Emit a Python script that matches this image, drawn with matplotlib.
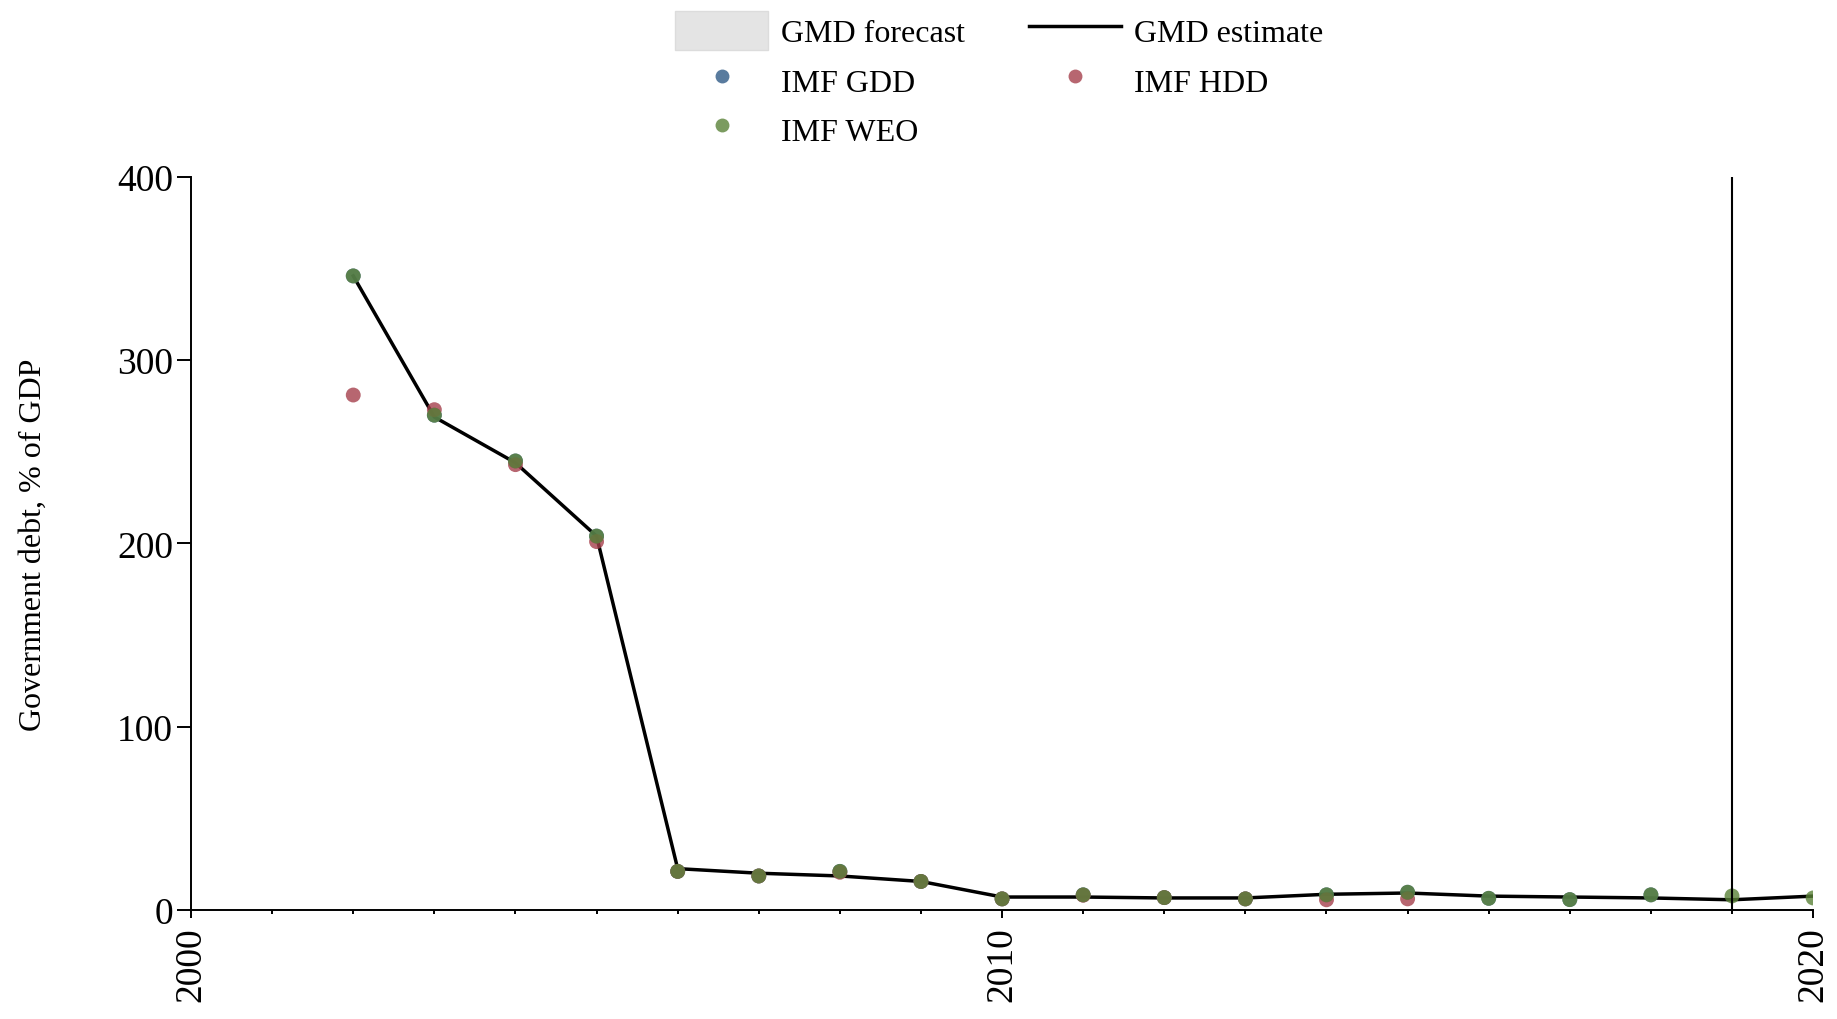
import matplotlib
matplotlib.use("Agg")
import matplotlib.pyplot as plt
from matplotlib.patches import Patch
from matplotlib.lines import Line2D
from matplotlib.ticker import MultipleLocator

plt.rcParams["font.family"] = ["Liberation Serif", "DejaVu Serif"]

# GMD estimate (line)
gmd_years = [2002, 2003, 2004, 2005, 2006, 2007, 2008, 2009, 2010, 2011,
             2012, 2013, 2014, 2015, 2016, 2017, 2018, 2019, 2020]
gmd_values = [346, 269, 244, 204, 22.5, 20, 18.5, 15.5, 7, 7,
              6.5, 6.5, 8.5, 9.2, 7.5, 7, 6.5, 5.5, 7.5]

# IMF GDD
gdd_years = [2002, 2003, 2004, 2005, 2006, 2007, 2008, 2009, 2010, 2011,
             2012, 2013, 2014, 2015, 2016, 2017, 2018]
gdd_values = [346, 270, 245, 204, 21, 18.5, 21, 15.5, 6, 8.2,
              6.7, 6, 8.2, 9.6, 6.3, 5.6, 8.2]

# IMF HDD
hdd_years = [2002, 2003, 2004, 2005, 2006, 2007, 2008, 2009, 2010, 2011,
             2012, 2013, 2014, 2015]
hdd_values = [281, 273, 243, 201, 21, 18.5, 20.5, 15.5, 6, 8,
              6.7, 6, 5.5, 6.0]

# IMF WEO
weo_years = [2002, 2003, 2004, 2005, 2006, 2007, 2008, 2009, 2010, 2011,
             2012, 2013, 2014, 2015, 2016, 2017, 2018, 2019, 2020]
weo_values = [346, 270, 245, 204, 21, 18.5, 21, 15.5, 6, 8.2,
              6.7, 6, 8.2, 9.6, 6.3, 5.6, 8.2, 7.6, 6.5]

forecast_start = 2019

c_gdd = "#2f5a86"
c_hdd = "#a5404c"
c_weo = "#5a8238"
alpha = 0.8
size = 115

fig = plt.figure(figsize=(18.37, 10.20), dpi=100)
ax = fig.add_axes([0.104, 0.107, 0.883, 0.7185])

ax.plot(gmd_years, gmd_values, color="black", lw=2.5, zorder=2)
ax.scatter(gdd_years, gdd_values, s=size, color=c_gdd, alpha=alpha,
           edgecolors="none", zorder=3)
ax.scatter(hdd_years, hdd_values, s=size, color=c_hdd, alpha=alpha,
           edgecolors="none", zorder=3)
ax.scatter(weo_years, weo_values, s=size, color=c_weo, alpha=alpha,
           edgecolors="none", zorder=3)
ax.axvline(forecast_start, color="black", lw=1.5, zorder=4)

ax.set_xlim(2000, 2020)
ax.set_ylim(0, 400)
ax.set_xticks([2000, 2010, 2020])
ax.set_xticklabels(["2000", "2010", "2020"], rotation=90)
ax.xaxis.set_minor_locator(MultipleLocator(1))
ax.set_yticks([0, 100, 200, 300, 400])
ax.tick_params(axis="both", labelsize=27, width=1.4)
ax.tick_params(axis="x", which="major", length=6, pad=6)
ax.tick_params(axis="x", which="minor", length=3, width=1.4)
ax.tick_params(axis="y", length=10, pad=3)
for s in ["top", "right"]:
    ax.spines[s].set_visible(False)
for s in ["left", "bottom"]:
    ax.spines[s].set_linewidth(1.4)

ax.set_ylabel("Government debt, % of GDP", fontsize=23, labelpad=50)

ms = 10
handles = [
    Patch(facecolor="#e4e4e4", edgecolor="#dcdcdc", label="GMD forecast"),
    Line2D([], [], marker="o", ls="none", color=c_gdd, alpha=alpha,
           markeredgecolor="none", markersize=ms, label="IMF GDD"),
    Line2D([], [], marker="o", ls="none", color=c_weo, alpha=alpha,
           markeredgecolor="none", markersize=ms, label="IMF WEO"),
    Line2D([], [], color="black", lw=2.5, label="GMD estimate"),
    Line2D([], [], marker="o", ls="none", color=c_hdd, alpha=alpha,
           markeredgecolor="none", markersize=ms, label="IMF HDD"),
]
fig.legend(handles=handles, loc="upper center", bbox_to_anchor=(0.544, 1.016),
           ncol=2, frameon=False, fontsize=23, handlelength=2.9,
           handleheight=1.5, columnspacing=2.0, labelspacing=0.33,
           handletextpad=0.4)

fig.savefig("out.png", dpi=100)
